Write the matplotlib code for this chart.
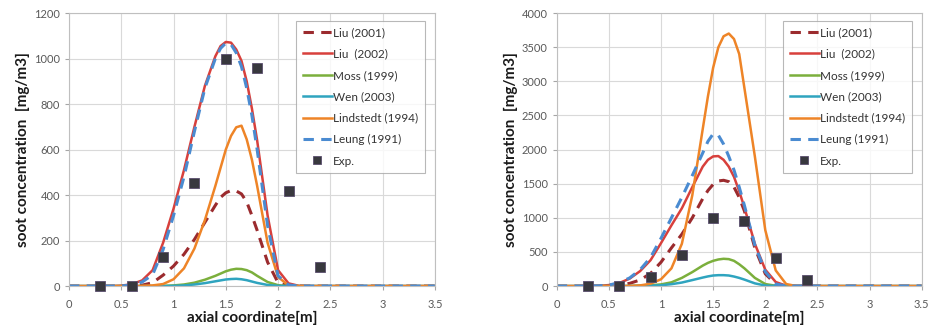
# Soot concentration along the axial coordinate: model comparison vs. experiment
import matplotlib
matplotlib.use('Agg')
import matplotlib.pyplot as plt

plt.rcParams['font.family'] = ['Lato', 'DejaVu Sans']

# ------------------------------------------------------------
# data
# ------------------------------------------------------------
x = [0, 0.3, 0.4, 0.5, 0.6, 0.7, 0.8, 0.9, 1.0, 1.1, 1.2, 1.3, 1.4, 1.45,
     1.5, 1.55, 1.6, 1.65, 1.7, 1.75, 1.8, 1.9, 2.0, 2.1, 2.2, 2.3, 3.5]

# left panel
liu2001_l = [0, 0, 0, 0, 1, 4, 15, 48, 88, 140, 205, 280, 355, 390,
             410, 420, 418, 405, 370, 310, 245, 105, 15, 1, 0, 0, 0]
liu2002_l = [0, 0, 0, 2, 8, 25, 70, 190, 340, 510, 700, 880, 1010, 1055,
             1073, 1070, 1040, 990, 900, 780, 640, 310, 70, 12, 1, 0, 0]
moss_l = [0, 0, 0, 0, 0, 0, 0, 1, 3, 7, 15, 28, 45, 55,
          65, 72, 76, 75, 70, 60, 45, 18, 4, 0, 0, 0, 0]
wen_l = [0, 0, 0, 0, 0, 0, 0, 0, 1, 3, 7, 13, 21, 25,
         29, 31, 32, 30, 26, 20, 14, 5, 1, 0, 0, 0, 0]
lind_l = [0, 0, 0, 0, 0, 1, 3, 9, 30, 78, 165, 290, 440, 520,
          600, 660, 698, 705, 645, 555, 440, 190, 40, 3, 0, 0, 0]
leung_l = [0, 0, 0, 0, 5, 18, 50, 160, 310, 480, 680, 870, 1000, 1045,
           1068, 1062, 1025, 965, 870, 750, 600, 265, 45, 5, 0, 0, 0]

# right panel
liu2001_r = [0, 0, 0, 5, 15, 40, 90, 186, 350, 560, 760, 1000, 1280, 1400,
             1490, 1540, 1550, 1530, 1450, 1300, 1100, 560, 180, 30, 2, 0, 0]
liu2002_r = [0, 0, 3, 15, 45, 110, 220, 380, 630, 890, 1140, 1450, 1750, 1850,
             1900, 1905, 1850, 1750, 1600, 1390, 1150, 620, 240, 60, 5, 0, 0]
moss_r = [0, 0, 0, 0, 0, 2, 6, 12, 25, 55, 120, 205, 300, 340,
          370, 390, 400, 395, 370, 320, 260, 120, 30, 5, 0, 0, 0]
wen_r = [0, 0, 0, 0, 0, 1, 3, 6, 12, 28, 52, 88, 125, 142,
         155, 160, 160, 155, 140, 120, 95, 40, 8, 1, 0, 0, 0]
lind_r = [0, 0, 0, 0, 0, 2, 10, 35, 100, 260, 620, 1330, 2300, 2780,
          3200, 3500, 3660, 3700, 3620, 3400, 2900, 1900, 820, 230, 30, 0, 0]
leung_r = [0, 0, 3, 15, 50, 120, 240, 420, 700, 1000, 1300, 1620, 1950, 2120,
           2230, 2210, 2080, 1900, 1700, 1450, 1180, 600, 210, 30, 2, 0, 0]

# experiment (same measurements on both panels)
exp_x = [0.3, 0.6, 0.9, 1.2, 1.5, 1.8, 2.1, 2.4]
exp_y = [0, 0, 130, 455, 1000, 960, 418, 86]

labels = ['Liu (2001)', 'Liu  (2002)', 'Moss (1999)', 'Wen (2003)',
          'Lindstedt (1994)', 'Leung (1991)', 'Exp.']
xticks = [0, 0.5, 1, 1.5, 2, 2.5, 3, 3.5]
xtick_labels = ['0', '0.5', '1', '1.5', '2', '2.5', '3', '3.5']

# ------------------------------------------------------------
# styling
# ------------------------------------------------------------
c_liu01 = '#9B2B2E'
c_liu02 = '#D8403C'
c_moss = '#7BAF3C'
c_wen = '#2FA4BF'
c_lind = '#EE8427'
c_leung = '#4A8BD1'
c_exp = '#38383E'
grid_c = '#D9D9D9'
text_c = '#595959'
dash = (0, (3.4, 2.4))


def draw_panel(ax, liu01, liu02, moss, wen, lind, leung, ymax, ystep):
    ax.plot(x, liu01, color=c_liu01, lw=2.2, linestyle=dash, label=labels[0])
    ax.plot(x, liu02, color=c_liu02, lw=1.8, label=labels[1])
    ax.plot(x, moss, color=c_moss, lw=1.8, label=labels[2])
    ax.plot(x, wen, color=c_wen, lw=1.8, label=labels[3])
    ax.plot(x, lind, color=c_lind, lw=1.8, label=labels[4])
    ax.plot(x, leung, color=c_leung, lw=2.2, linestyle=dash, label=labels[5])
    ax.plot(exp_x, exp_y, 's', color=c_exp, markersize=6.5, clip_on=False,
            markeredgecolor='#5A4E6E', markeredgewidth=0.6, label=labels[6],
            zorder=5)

    ax.set_xlim(0, 3.5)
    ax.set_ylim(0, ymax)
    ax.set_xticks(xticks)
    ax.set_xticklabels(xtick_labels)
    ax.set_yticks(range(0, ymax + 1, ystep))
    ax.grid(True, color=grid_c, lw=0.8)
    ax.set_axisbelow(True)
    for s in ax.spines.values():
        s.set_color('#BFBFBF')
        s.set_linewidth(0.8)
    ax.tick_params(axis='both', colors='#A6A6A6', labelcolor=text_c,
                   labelsize=8, length=3, width=0.8)
    ax.tick_params(axis='x', pad=6)
    ax.set_xlabel('axial coordinate[m]', fontsize=11, fontweight='bold',
                  color='#1A1A1A', labelpad=1)
    ax.set_ylabel('soot concentration  [mg/m3]', fontsize=11,
                  fontweight='bold', color='#1A1A1A', labelpad=3)

    leg = ax.legend(loc='upper right', bbox_to_anchor=(0.973, 0.972),
                    borderaxespad=0, fontsize=8.5, frameon=True,
                    fancybox=False, edgecolor='#A6A6A6', handlelength=2.5,
                    handletextpad=0.1, labelspacing=0.88, borderpad=0.55,
                    markerscale=0.85)
    leg.get_frame().set_linewidth(0.8)
    for t in leg.get_texts():
        t.set_color('#333333')


fig = plt.figure(figsize=(9.31, 3.35), dpi=100)
ax1 = fig.add_axes([0.0741, 0.146, 0.393, 0.815])
ax2 = fig.add_axes([0.598, 0.146, 0.392, 0.815])

draw_panel(ax1, liu2001_l, liu2002_l, moss_l, wen_l, lind_l, leung_l, 1200, 200)
draw_panel(ax2, liu2001_r, liu2002_r, moss_r, wen_r, lind_r, leung_r, 4000, 500)

fig.savefig('out.png', dpi=100, facecolor='white')
plt.close(fig)
